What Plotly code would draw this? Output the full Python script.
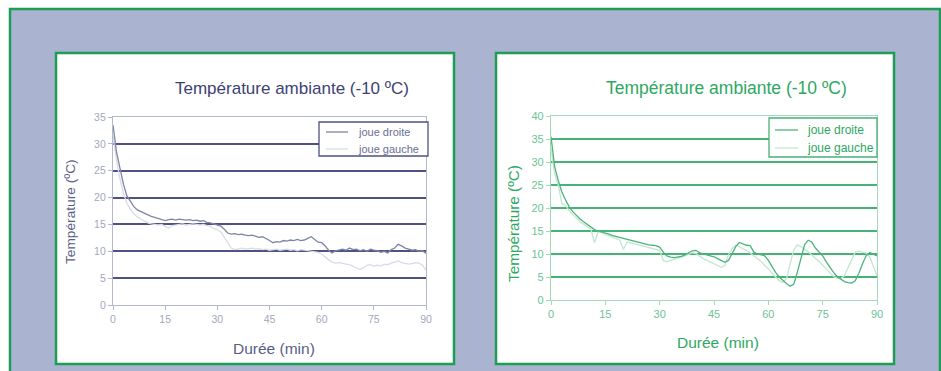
import plotly.graph_objects as go

W, H = 941, 371

minutes = list(range(0, 91))
x_ticks = [0, 15, 30, 45, 60, 75, 90]
y_ticks_left = [0, 5, 10, 15, 20, 25, 30, 35]
y_ticks_right = [0, 5, 10, 15, 20, 25, 30, 35, 40]

title_text = "Température ambiante (-10 ºC)"
x_title = "Durée (min)"
y_title = "Température (ºC)"
series_names = ["joue droite", "joue gauche"]

left_droite = [33.5, 28.5, 25.5, 22.5, 20.3, 19.2, 18.3, 17.7, 17.4, 17.0,
               16.8, 16.5, 16.3, 16.1, 15.9, 15.7, 15.9, 16.0, 15.8, 16.0,
               15.9, 15.8, 15.9, 15.7, 15.8, 15.6, 15.7, 15.4, 15.3, 15.1,
               14.9, 14.7, 14.1, 13.4, 13.2, 13.3, 13.1, 13.2, 13.0, 12.9,
               13.0, 12.8, 12.6, 12.7, 12.4, 12.0, 11.6, 11.8, 11.7, 12.0,
               11.9, 12.1, 12.0, 12.2, 12.0, 12.1, 12.4, 12.7, 12.2, 11.7,
               11.6, 11.0, 10.2, 9.7, 10.1, 10.2, 10.4, 10.2, 10.6, 10.3,
               10.4, 10.1, 10.3, 10.0, 10.4, 10.2, 10.1, 9.8, 10.0, 9.7,
               10.3, 10.6, 11.3, 11.0, 10.6, 10.4, 10.2, 10.3, 10.0, 10.1,
               9.6]

left_gauche = [31.5, 27.0, 23.5, 20.8, 19.0, 17.8, 17.0, 16.4, 16.0, 15.6,
               15.3, 15.1, 15.0, 14.9, 15.0, 14.6, 14.3, 14.8, 14.9, 15.0,
               15.1, 14.9, 15.0, 15.1, 15.0, 14.9, 15.0, 14.8, 14.6, 14.2,
               14.0, 13.6, 12.6, 11.5, 10.6, 10.3, 10.5, 10.6, 10.4, 10.5,
               10.6, 10.4, 10.5, 10.3, 10.4, 10.2, 10.3, 10.4, 10.2, 10.3,
               10.4, 10.2, 10.3, 10.1, 10.3, 10.2, 10.1, 10.0, 9.9, 9.8,
               9.5, 8.9, 8.4, 8.0, 7.8, 7.9, 7.7, 7.6, 7.5, 7.2,
               6.8, 6.6, 6.9, 7.4, 7.5, 7.2, 7.4, 7.3, 7.6, 7.5,
               7.8, 8.0, 8.2, 7.9, 7.8, 7.6, 7.7, 7.9, 7.8, 7.4,
               6.5]

right_droite = [35.5, 29.0, 26.0, 23.5, 21.8, 20.3, 19.2, 18.3, 17.6, 17.0,
                16.4, 15.9, 15.3, 15.0, 14.8, 14.6, 14.3, 14.0, 13.8, 13.6,
                13.3, 13.1, 12.9, 12.7, 12.6, 12.4, 12.2, 12.0, 11.9, 11.8,
                11.5, 10.4, 9.6, 9.3, 9.2, 9.3, 9.5, 9.8, 10.3, 10.7,
                10.8, 10.3, 10.0, 9.8, 9.6, 9.4, 9.0, 8.6, 8.2, 8.6,
                10.0, 11.6, 12.5, 12.2, 11.9, 11.8, 10.4, 10.0, 9.8, 9.6,
                8.6, 7.2, 6.0, 5.0, 4.2, 3.6, 3.0, 3.4, 6.0, 9.2,
                12.0, 13.0, 12.6, 11.3, 10.4, 9.6, 8.3, 7.1, 6.0, 5.1,
                4.5, 4.0, 3.8, 3.7, 4.2, 5.8, 7.9, 9.6, 10.3, 10.0,
                9.6]

right_gauche = [33.0, 27.5, 25.0, 21.0, 20.5, 19.5, 18.5, 17.8, 17.0, 16.5,
                16.0, 15.4, 12.5, 14.8, 14.6, 14.3, 14.0, 13.6, 13.4, 13.0,
                11.0, 12.6, 12.4, 12.2, 11.9, 11.7, 11.5, 11.4, 11.2, 11.0,
                10.8, 8.6, 8.3, 8.6, 8.8, 9.0, 9.3, 9.6, 10.0, 10.3,
                10.1, 9.5, 9.0, 8.6, 8.2, 7.8, 7.4, 7.1, 7.5, 9.8,
                11.2, 11.9, 11.6, 11.1, 10.8, 10.2, 9.6, 9.0, 8.4, 7.5,
                6.8, 5.8, 5.0, 4.2, 3.8, 4.6, 7.8, 10.8, 12.0, 11.6,
                11.0, 10.5, 9.8, 9.1, 8.4, 7.6, 6.7, 5.8, 5.1, 4.7,
                4.6, 5.3, 7.0, 8.9, 10.4, 10.6, 10.4, 10.2, 9.4, 7.2,
                5.2]

# styles
FONT = "Liberation Sans, Arial, sans-serif"
PANEL = "#aab3cf"
GREEN_BORDER = "#1f9d55"
NAVY = "#3d4274"
NAVY_GRID = "#4d5283"
NAVY_LIGHT = "#b4b8cc"
NAVY_TICK = "#a3a7bd"
NAVY_AXTITLE = "#5a5e86"
L_DROITE = "#7f84a3"
L_GAUCHE = "#d8dbe7"
GREEN = "#2ea862"
GREEN_GRID = "#45b276"
GREEN_LIGHT = "#a3dabb"
GREEN_TICK = "#6cc493"
R_DROITE = "#4cb47b"
R_GAUCHE = "#c3e7d0"


def px_x(v):
    return v / W


def px_y(v):
    return (H - v) / H


fig = go.Figure()

line_traces = [
    (series_names[1], left_gauche, L_GAUCHE, "x", "y"),
    (series_names[0], left_droite, L_DROITE, "x", "y"),
    (series_names[1], right_gauche, R_GAUCHE, "x2", "y2"),
    (series_names[0], right_droite, R_DROITE, "x2", "y2"),
]
for name, vals, col, xa, ya in line_traces:
    fig.add_trace(go.Scatter(x=minutes, y=vals, name=name, mode="lines", showlegend=False,
                             line=dict(color=col, width=1.3), xaxis=xa, yaxis=ya))

axis_base = dict(showline=True, mirror=True, zeroline=False, ticks="outside",
                 ticklen=4, tickwidth=1, linewidth=1.2, automargin=False)

fig.update_layout(
    template="none",
    width=W, height=H, autosize=False,
    margin=dict(l=0, r=0, t=0, b=0, pad=0, autoexpand=False),
    paper_bgcolor="white", plot_bgcolor="rgba(0,0,0,0)",
    font=dict(family=FONT),
    showlegend=False,
    xaxis=dict(domain=[px_x(113), px_x(426)], anchor="y", range=[0, 90],
               tickvals=x_ticks, showgrid=False, linecolor=NAVY_LIGHT,
               tickcolor=NAVY_LIGHT, tickfont=dict(size=10.5, family=FONT, color=NAVY_TICK),
               **axis_base),
    yaxis=dict(domain=[px_y(305), px_y(117)], anchor="x", range=[0, 35],
               tickvals=y_ticks_left, showgrid=True, gridcolor=NAVY_GRID, gridwidth=1.5,
               linecolor=NAVY_LIGHT, tickcolor=NAVY_LIGHT,
               tickfont=dict(size=10.5, family=FONT, color=NAVY_TICK), **axis_base),
    xaxis2=dict(domain=[px_x(551), px_x(877)], anchor="y2", range=[0, 90],
                tickvals=x_ticks, showgrid=False, linecolor=GREEN_LIGHT,
                tickcolor=GREEN_LIGHT, tickfont=dict(size=11, family=FONT, color=GREEN_TICK),
                **axis_base),
    yaxis2=dict(domain=[px_y(300), px_y(116)], anchor="x2", range=[0, 40],
                tickvals=y_ticks_right, showgrid=True, gridcolor=GREEN_GRID, gridwidth=1.5,
                linecolor=GREEN_LIGHT, tickcolor=GREEN_LIGHT,
                tickfont=dict(size=11, family=FONT, color=GREEN_TICK), **axis_base),
)

shapes = [
    dict(type="rect", xref="paper", yref="paper", x0=px_x(10), x1=px_x(940),
         y0=-0.2, y1=px_y(9), fillcolor=PANEL, line=dict(color=GREEN_BORDER, width=2.5),
         layer="below"),
    dict(type="rect", xref="paper", yref="paper", x0=px_x(56), x1=px_x(454),
         y0=px_y(364), y1=px_y(53), fillcolor="white", line=dict(color=GREEN_BORDER, width=2.5),
         layer="below"),
    dict(type="rect", xref="paper", yref="paper", x0=px_x(496), x1=px_x(894),
         y0=px_y(364), y1=px_y(53), fillcolor="white", line=dict(color=GREEN_BORDER, width=2.5),
         layer="below"),
    # legend boxes
    dict(type="rect", xref="paper", yref="paper", x0=px_x(319), x1=px_x(428),
         y0=px_y(156), y1=px_y(122), fillcolor="white", line=dict(color=NAVY_GRID, width=1.3)),
    dict(type="rect", xref="paper", yref="paper", x0=px_x(769), x1=px_x(877),
         y0=px_y(157), y1=px_y(118), fillcolor="white", line=dict(color=GREEN_GRID, width=1.3)),
    # legend keys
    dict(type="line", xref="paper", yref="paper", x0=px_x(326), x1=px_x(348),
         y0=px_y(132), y1=px_y(132), line=dict(color=L_DROITE, width=1.3)),
    dict(type="line", xref="paper", yref="paper", x0=px_x(326), x1=px_x(348),
         y0=px_y(149), y1=px_y(149), line=dict(color=L_GAUCHE, width=1.3)),
    dict(type="line", xref="paper", yref="paper", x0=px_x(775), x1=px_x(798),
         y0=px_y(130), y1=px_y(130), line=dict(color=R_DROITE, width=1.3)),
    dict(type="line", xref="paper", yref="paper", x0=px_x(775), x1=px_x(798),
         y0=px_y(148), y1=px_y(148), line=dict(color=R_GAUCHE, width=1.3)),
]
fig.update_layout(shapes=shapes)


def ann(text, x, y, size, color, angle=0, xanchor="center"):
    return dict(text=text, x=px_x(x), y=px_y(y), xref="paper", yref="paper",
                xanchor=xanchor, yanchor="middle", showarrow=False, textangle=angle,
                font=dict(size=size, color=color, family=FONT))


annotations = [
    ann(title_text, 292, 89, 17, NAVY),
    ann(title_text, 726, 88, 17.5, GREEN),
    ann(x_title, 274, 348, 15.5, NAVY_AXTITLE),
    ann(x_title, 718, 342, 15.5, GREEN),
    ann(y_title, 70, 212, 13.7, NAVY_AXTITLE, -90),
    ann(y_title, 513, 224, 15.3, GREEN, -90),
    ann(series_names[0], 356, 132, 11, "#6a6e92", xanchor="left"),
    ann(series_names[1], 356, 149, 11, "#6a6e92", xanchor="left"),
    ann(series_names[0], 805, 130, 12, GREEN, xanchor="left"),
    ann(series_names[1], 805, 148, 12, GREEN, xanchor="left"),
]
fig.update_layout(annotations=annotations)

fig.write_html(
    "out.html",
    config={"displayModeBar": False},
    post_script="document.body.style.margin='0';document.body.style.overflow='hidden';",
)
